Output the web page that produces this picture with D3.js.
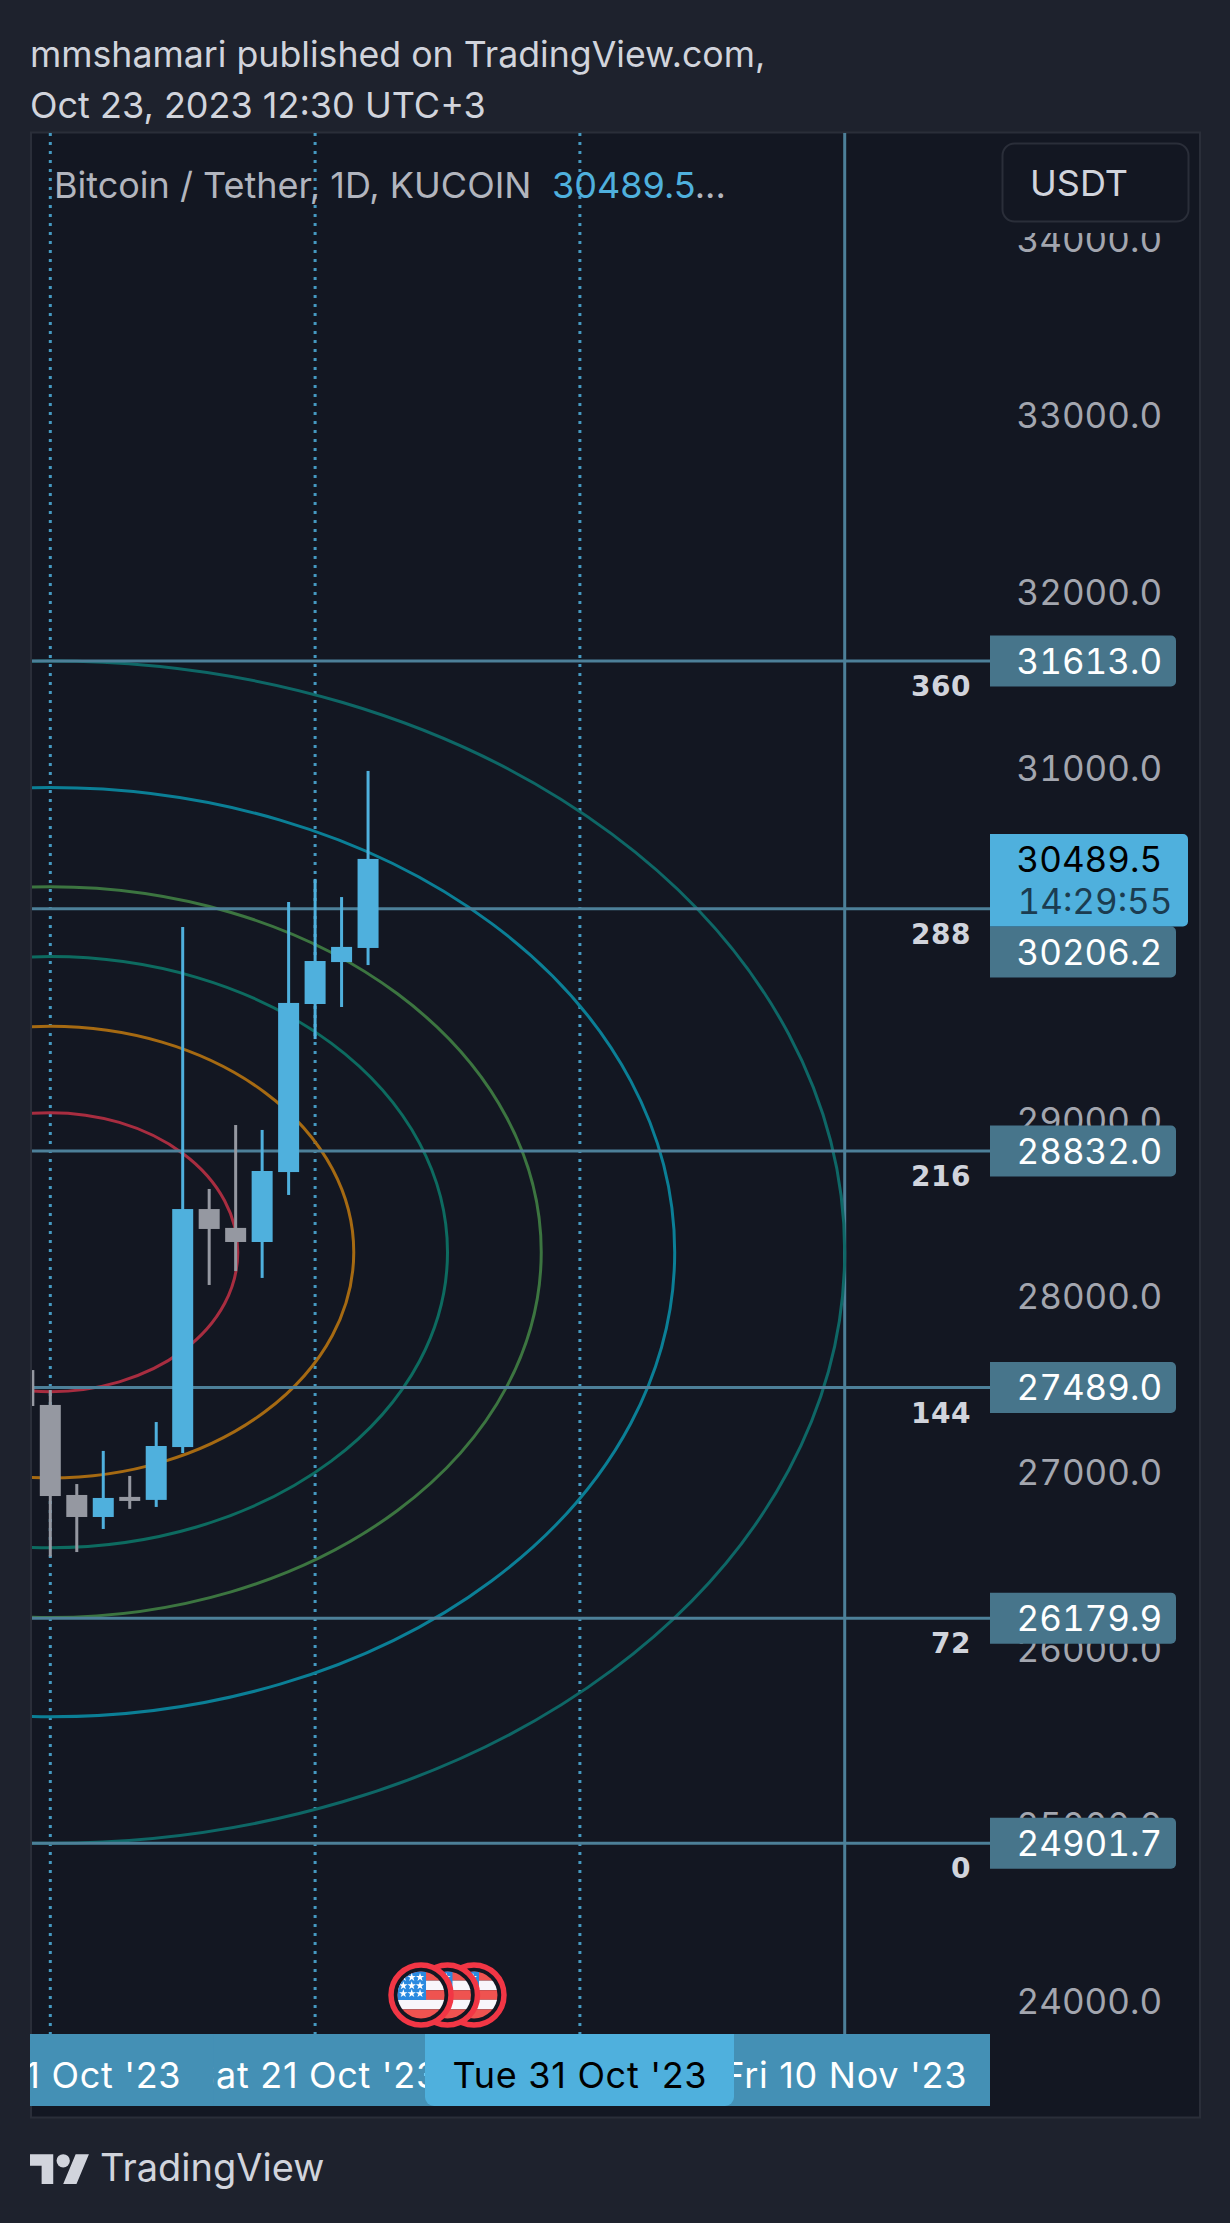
<!DOCTYPE html>
<html>
<head>
<meta charset="utf-8">
<title>BTCUSDT</title>
<script src="https://cdn.jsdelivr.net/npm/d3@7"></script>
<style>
  html, body { margin: 0; padding: 0; background: #1e222d; }
  svg { display: block; }
  text { font-family: Inter, Roboto, sans-serif; }
  text.price { font-feature-settings: "tnum"; font-variant-numeric: tabular-nums; }
</style>
</head>
<body>
<svg id="chart" width="1230" height="2223"></svg>
<script>
// candles, one per day starting at candleStart
var candleStart = "2023-10-10";
var opens  = [27588, 27390, 26879, 26754, 26868, 26851, 27151, 28502, 28395, 28315, 28712, 29666, 29904, 29984];
var highs  = [27700, 27475, 26941, 27129, 26987, 27293, 30103, 28616, 28979, 28951, 30245, 30376, 30273, 30989];
var lows   = [27300, 26529, 26555, 26686, 26800, 26811, 27117, 28071, 28150, 28111, 28582, 29467, 29649, 29887];
var closes = [27384, 26873, 26754, 26862, 26845, 27157, 28502, 28389, 28315, 28718, 29672, 29910, 29990, 30489.5];

// fib circle levels and the drawing's horizontal / vertical lines
var fibLevels = [0.236, 0.382, 0.5, 0.618, 0.786, 1];
var fibColors = ["#a82d40", "#a66a12", "#0d6b60", "#3c7540", "#0b7f96", "#0e6766"];
var levelNames = ["0", "72", "144", "216", "288", "360"];
var levelPrices = [24901.7, 26179.9, 27489.0, 28832.0, 30206.2, 31613.0];
var dottedDates = ["2023-10-11", "2023-10-21", "2023-10-31"];
var solidDate = "2023-11-10";
var eventDates = ["2023-10-27", "2023-10-26", "2023-10-25"];

// axes
var priceTicks = [24000, 25000, 26000, 27000, 28000, 29000, 31000, 32000, 33000, 34000];
// last one ends up on top, its label box hides the start of the next label
var timeTicks = ["2023-11-10", "2023-10-21", "2023-10-11"];
var activeDate = "2023-10-31";
var lastPrice = 30489.5;
var countdown = "14:29:55";

var BLUE = "#4fb0dd", GREY = "#9598a1", LINE = "#4d8099", BAND = "#4490b5", TAG = "#47758b";
var plot = {left: 32, right: 1199, top: 133, bottom: 2117};

var svg = d3.select("#chart");
var parse = d3.utcParse("%Y-%m-%d");

var x = d3.scaleUtc()
  .domain([parse("2023-10-11"), parse("2023-11-10")])
  .range([50.3, 844.7]);
var y = d3.scaleLinear()
  .domain([24901.7, 31613])
  .range([1843.3, 661]);

svg.append("rect").attr("width", 1230).attr("height", 2223).attr("fill", "#1e222d");

svg.append("clipPath").attr("id", "plotclip").append("rect")
  .attr("x", plot.left).attr("y", plot.top)
  .attr("width", plot.right - plot.left).attr("height", plot.bottom - plot.top);
svg.append("clipPath").attr("id", "bandclip").append("rect")
  .attr("x", plot.left - 2).attr("y", 2034).attr("width", 960).attr("height", 72);
// price labels are cut just under the currency button
svg.append("clipPath").attr("id", "axisclip").append("rect")
  .attr("x", 990).attr("y", 233).attr("width", 209).attr("height", 1880);

svg.append("rect")
  .attr("x", 31).attr("y", 132.5)
  .attr("width", 1169).attr("height", 1985)
  .attr("fill", "#131722").attr("stroke", "#2a2e39").attr("stroke-width", 2);

var g = svg.append("g").attr("clip-path", "url(#plotclip)");

/***************** price axis ******************/
var priceAxis = d3.axisRight(y)
  .tickValues(priceTicks)
  .tickSize(0)
  .tickPadding(0)
  .tickFormat(d3.format(".1f"));
var pa = g.append("g").attr("clip-path", "url(#axisclip)")
  .append("g").attr("transform", "translate(1016.5,0)").call(priceAxis);
pa.select(".domain").remove();
pa.selectAll("text")
  .attr("class", "price")
  .attr("font-size", 35).attr("fill", "#a3a6af").attr("letter-spacing", 0)
  .style("font-family", "Inter");

/***************** drawing ******************/
g.selectAll("line.dotted").data(dottedDates).enter().append("line")
  .attr("class", "dotted")
  .attr("x1", function(d){ return x(parse(d)); })
  .attr("x2", function(d){ return x(parse(d)); })
  .attr("y1", plot.top).attr("y2", 2034)
  .attr("stroke", BLUE).attr("stroke-opacity", 0.85)
  .attr("stroke-width", 3).attr("stroke-dasharray", "3 6");

g.append("line")
  .attr("x1", x(parse(solidDate))).attr("x2", x(parse(solidDate)))
  .attr("y1", plot.top).attr("y2", 2034)
  .attr("stroke", LINE).attr("stroke-width", 3);

g.selectAll("ellipse.fib").data(fibLevels).enter().append("ellipse")
  .attr("class", "fib")
  .attr("cx", x(parse("2023-10-11")))
  .attr("cy", y((levelPrices[0] + levelPrices[5]) / 2))
  .attr("rx", function(d){ return (x(parse(solidDate)) - x(parse("2023-10-11"))) * d; })
  .attr("ry", function(d){ return (y(levelPrices[0]) - y(levelPrices[5])) / 2 * d; })
  .attr("fill", "none")
  .attr("stroke-width", 3)
  .attr("stroke", function(d, i){ return fibColors[i]; });

g.selectAll("line.level").data(levelPrices).enter().append("line")
  .attr("class", "level")
  .attr("x1", plot.left).attr("x2", 990)
  .attr("y1", y).attr("y2", y)
  .attr("stroke", LINE).attr("stroke-width", 3);

g.selectAll("text.levelname").data(levelNames).enter().append("text")
  .attr("class", "levelname")
  .attr("x", 971)
  .attr("y", function(d, i){ return y(levelPrices[i]) + 25; })
  .attr("dy", "0.36em")
  .attr("text-anchor", "end")
  .attr("fill", "#d1d4dc")
  .attr("font-size", 28).attr("font-weight", 700).attr("letter-spacing", 0.5)
  .style("font-family", "DejaVu Sans")
  .text(function(d){ return d; });

/***************** candles ******************/
var candles = opens.map(function(o, i){
  var day = parse(candleStart);
  return {
    date: d3.utcDay.offset(day, i),
    open: o, high: highs[i], low: lows[i], close: closes[i]
  };
});
var bodyW = 21, wickW = 3;
function color(d){ return d.close >= d.open ? BLUE : GREY; }

g.selectAll("rect.wick").data(candles).enter().append("rect")
  .attr("class", "wick")
  .attr("x", function(d){ return x(d.date) - wickW / 2; })
  .attr("width", wickW)
  .attr("y", function(d){ return y(d.high); })
  .attr("height", function(d){ return y(d.low) - y(d.high); })
  .attr("fill", color);

g.selectAll("rect.body").data(candles).enter().append("rect")
  .attr("class", "body")
  .attr("x", function(d){ return x(d.date) - bodyW / 2; })
  .attr("width", bodyW)
  .attr("y", function(d){ return y(Math.max(d.open, d.close)); })
  .attr("height", function(d){ return Math.abs(y(d.open) - y(d.close)); })
  .attr("fill", color);

/***************** us events ******************/
var flags = g.selectAll("g.flag").data(eventDates).enter().append("g")
  .attr("class", "flag")
  .attr("transform", function(d){ return "translate(" + x(parse(d)) + ",1995)"; });

flags.append("circle").attr("r", 30).attr("fill", "#131722")
  .attr("stroke", "#f23645").attr("stroke-width", 5.5);
flags.each(function(d, i){
  var f = d3.select(this);
  var id = "flagclip" + i;
  f.append("clipPath").attr("id", id).append("circle").attr("r", 23.5);
  var inner = f.append("g").attr("clip-path", "url(#" + id + ")");
  // stripes
  [0, 1, 2, 3, 4].forEach(function(s){
    inner.append("rect")
      .attr("x", -24).attr("y", -24 + s * 9.6)
      .attr("width", 48).attr("height", 9.6)
      .attr("fill", s % 2 ? "#f8f6fb" : "#ef5350");
  });
  inner.append("rect").attr("x", -24).attr("y", -24)
    .attr("width", 29).attr("height", 29).attr("fill", "#2a8ae0");
  [-17.7, -9.3, -1].forEach(function(sx){
    [-17.7, -9.3, -1.5].forEach(function(sy){
      inner.append("path")
        .attr("d", d3.symbol().type(d3.symbolStar).size(22)())
        .attr("transform", "translate(" + sx + "," + sy + ")")
        .attr("fill", "#fff");
    });
  });
});

/***************** price tags ******************/
function rightRound(x0, y0, w, h, r){
  return "M" + x0 + "," + y0 + "H" + (x0 + w - r) +
    "a" + r + "," + r + " 0 0 1 " + r + "," + r +
    "V" + (y0 + h - r) +
    "a" + r + "," + r + " 0 0 1 -" + r + "," + r +
    "H" + x0 + "Z";
}
var tagH = 51, lastTop = y(lastPrice) - 25, lastH = 92.5;

var tags = svg.append("g").selectAll("g").data(levelPrices).enter().append("g")
  .attr("transform", function(d){
    // pushed below the last price tag when they collide
    var cy = y(d);
    if (cy + tagH / 2 > lastTop && cy - tagH / 2 < lastTop + lastH) cy = lastTop + lastH + tagH / 2;
    return "translate(0," + cy + ")";
  });
tags.append("path")
  .attr("d", rightRound(990, -tagH / 2, 186, tagH, 5))
  .attr("fill", TAG);
tags.append("text")
  .attr("class", "price")
  .attr("x", 1016.5).attr("dy", "0.36em")
  .attr("font-size", 35)
  .attr("fill", "#fff")
  .text(function(d){ return d3.format(".1f")(d); });

var last = svg.append("g");
last.append("path")
  .attr("d", rightRound(990, lastTop, 198, lastH, 5))
  .attr("fill", BLUE);
last.append("text")
  .attr("class", "price")
  .attr("x", 1016.5).attr("y", y(lastPrice)).attr("dy", "0.36em")
  .attr("font-size", 35)
  .attr("fill", "#000")
  .text(d3.format(".1f")(lastPrice));
last.append("text")
  .attr("class", "price")
  .attr("x", 1017.5).attr("y", y(lastPrice) + 42).attr("dy", "0.36em")
  .attr("font-size", 35)
  .attr("fill", "#1b3c50")
  .text(countdown);

/***************** time axis ******************/
svg.append("path")
  .attr("d", rightRound(30, 2034, 960, 72, 3))
  .attr("fill", BAND);

var fmt = d3.utcFormat("%a %d %b '%y");
var timeAxis = d3.axisBottom(x)
  .tickValues(timeTicks.map(parse))
  .tickSize(0)
  .tickPadding(0)
  .tickFormat(fmt);
var ta = svg.append("g").attr("clip-path", "url(#bandclip)").append("g")
  .attr("transform", "translate(0,2062)")
  .call(timeAxis);
ta.select(".domain").remove();
// every label sits on its own box
ta.selectAll(".tick").insert("rect", "text")
  .attr("x", -163).attr("y", -28).attr("width", 326).attr("height", 72)
  .attr("fill", BAND);
ta.selectAll("text")
  .attr("font-size", 36).attr("fill", "#fff").attr("letter-spacing", 0.7)
  .style("font-family", "Inter");

svg.append("path")
  .attr("d", "M425,2034H734V2097a9,9 0 0 1 -9,9H434a9,9 0 0 1 -9,-9Z")
  .attr("fill", BLUE);
svg.append("text")
  .attr("x", x(parse(activeDate))).attr("y", 2075).attr("dy", "0.36em")
  .attr("text-anchor", "middle")
  .attr("font-size", 36).attr("letter-spacing", 0.7).attr("fill", "#000")
  .text(fmt(parse(activeDate)));

/***************** header, legend, footer ******************/
svg.append("text").attr("x", 30).attr("y", 54).attr("dy", "0.36em")
  .attr("font-size", 35.7).attr("fill", "#d1d4dc")
  .text("mmshamari published on TradingView.com,");
svg.append("text").attr("x", 30).attr("y", 105).attr("dy", "0.36em")
  .attr("font-size", 36).attr("fill", "#d1d4dc")
  .text("Oct 23, 2023 12:30 UTC+3");

svg.append("text").attr("x", 54).attr("y", 185).attr("dy", "0.36em")
  .attr("font-size", 36).attr("fill", "#b2b5be")
  .text("Bitcoin / Tether, 1D, KUCOIN");
svg.append("text").attr("x", 552).attr("y", 185).attr("dy", "0.36em")
  .attr("font-size", 36).attr("fill", BLUE)
  .text(d3.format(".1f")(lastPrice))
  .append("tspan").attr("fill", "#b2b5be").text("...");

svg.append("rect")
  .attr("x", 1002.5).attr("y", 143.5).attr("width", 186).attr("height", 78).attr("rx", 12)
  .attr("fill", "#131722").attr("stroke", "#2a2e39").attr("stroke-width", 2);
svg.append("text").attr("x", 1030).attr("y", 183).attr("dy", "0.36em")
  .attr("font-size", 36).attr("fill", "#d1d4dc")
  .text("USDT");

svg.append("g").attr("transform", "translate(30,2147.5) scale(1.66)")
  .attr("fill", "#d1d4dc")
  .call(function(l){
    l.append("path").attr("d", "M14 22H7V11H0V4h14v18zM28 22h-8l7.5-18h8L28 22z");
    l.append("circle").attr("cx", 20).attr("cy", 8).attr("r", 4);
  });
svg.append("text").attr("x", 100).attr("y", 2167).attr("dy", "0.36em")
  .attr("font-size", 38).attr("fill", "#d1d4dc")
  .text("TradingView");
</script>
</body>
</html>
